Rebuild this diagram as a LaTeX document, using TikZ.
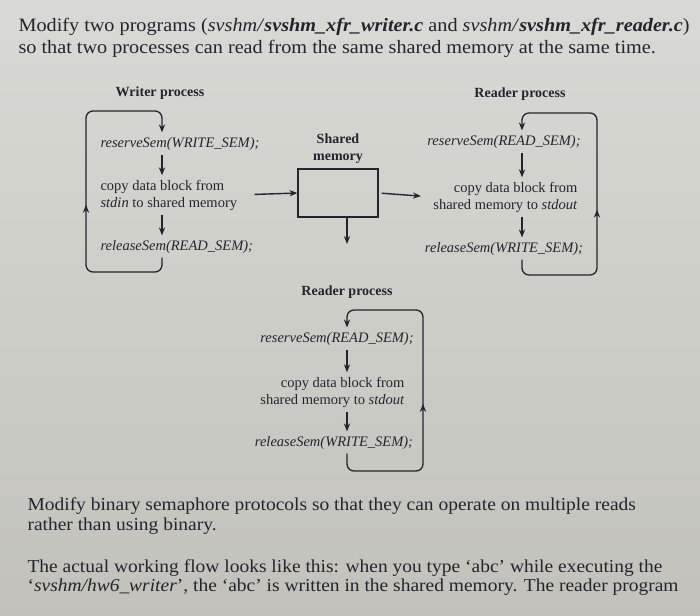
\documentclass[tikz,border=0pt]{standalone}
\usepackage{fontspec}
\setmainfont{Liberation Serif}[FakeStretch=1.07]
\newfontfamily\diagfont{Liberation Serif}
\usetikzlibrary{arrows.meta, positioning, decorations.markings}
\definecolor{cink}{HTML}{24242E}
\definecolor{cpapertop}{HTML}{D9DAD5}
\definecolor{cpapermid}{HTML}{D2D5D3}
\definecolor{cpaperlow}{HTML}{C2C2BB}
\tikzset{
  every picture/.style={line width=1.1pt},
  para/.style={anchor=base west, inner sep=0pt, text=cink, font=\fontsize{18.2}{21}\selectfont},
  headpara/.style={para, font=\fontsize{18.9}{21}\selectfont},
  proc/.style={inner sep=0pt, text=cink, font=\diagfont\bfseries\fontsize{14}{17}\selectfont},
  stmt/.style={inner xsep=0pt, inner ysep=4pt, text=cink, font=\diagfont\fontsize{14.5}{17}\selectfont},
  arrow/.style={-{Stealth[length=2.8mm, width=2.2mm]}, draw=cink, line width=1.4pt},
  loopline/.style={draw=cink, line width=1.3pt, rounded corners=7pt, -{Stealth[length=2.8mm, width=2.2mm]},
    postaction={decorate},
    decoration={markings, mark=at position #1 with {\arrow{Stealth[length=2.8mm, width=2.2mm]}}}},
}
\begin{document}
\begin{tikzpicture}[x=1pt, y=-1pt]
  \shade[top color=cpapertop, middle color=cpapermid, bottom color=cpaperlow] (0,0) rectangle (700,615);
  \useasboundingbox (0,0) rectangle (700,615);

  % ---- task text
  \node[headpara] (intro1) at (18,32) {Modify two programs (\textit{svshm/}\textbf{\textit{svshm\_xfr\_writer.c}} and \textit{svshm/}\textbf{\textit{svshm\_xfr\_reader.c}})};
  \node[headpara] (intro2) at (18,54) {so that two processes can read from the same shared memory at the same time.};

  % ---- columns of the down arrows
  \coordinate (wx) at (162,0);
  \coordinate (rx) at (522,0);
  \coordinate (bx) at (347,0);

  % ---- writer process
  \node[proc, anchor=base] (wlabel) at (160,96) {Writer process};
  \node[stmt, anchor=base west] (wres) at (100,147) {\textit{reserveSem(WRITE\_SEM);}};
  \node[stmt, anchor=west, align=left] (wcopy) at (100,195) {copy data block from\\\textit{stdin} to shared memory};
  \node[stmt, anchor=base west] (wrel) at (100,250) {\textit{releaseSem(READ\_SEM);}};
  \coordinate (wcorner) at (86,272);
  \coordinate (wtop) at (162,111);

  % ---- shared memory
  \node[draw=cink, line width=1.2pt, minimum width=80pt, minimum height=48pt, inner sep=0pt] (shm) at (338,193) {};
  \node[proc, align=center, above=4pt of shm] (shmlabel) {Shared\\memory};
  \coordinate (shmout) at (347,244);

  % ---- reader process (right)
  \node[proc, anchor=base] (rlabel) at (520,98) {Reader process};
  \node[stmt, anchor=base] (rres) at (504,145) {\textit{reserveSem(READ\_SEM);}};
  \node[stmt, anchor=east, align=right] (rcopy) at (578,197) {copy data block from\\shared memory to \textit{stdout}};
  \node[stmt, anchor=base] (rrel) at (504,252) {\textit{releaseSem(WRITE\_SEM);}};
  \coordinate (rcorner) at (597,275);
  \coordinate (rtop) at (522,113);

  % ---- reader process (below)
  \node[proc, anchor=base] (blabel) at (347,295) {Reader process};
  \node[stmt, anchor=base] (bres) at (337,342) {\textit{reserveSem(READ\_SEM);}};
  \node[stmt, anchor=east, align=right] (bcopy) at (405,392) {copy data block from\\shared memory to \textit{stdout}};
  \node[stmt, anchor=base] (brel) at (334,446) {\textit{releaseSem(WRITE\_SEM);}};
  \coordinate (bcorner) at (423,471);
  \coordinate (btop) at (347,310);

  % writer steps
  \draw[arrow] (wres.south -| wx) -- (wcopy.north -| wx);
  \draw[arrow] (wcopy.south -| wx) -- (wrel.north -| wx);
  \draw[loopline=0.45] (wrel.south -| wx) |- (wcorner) |- (wtop) -- (wres.north -| wx);

  % reader steps
  \draw[arrow] (rres.south -| rx) -- (rcopy.north -| rx);
  \draw[arrow] (rcopy.south -| rx) -- (rrel.north -| rx);
  \draw[loopline=0.45] (rrel.south -| rx) |- (rcorner) |- (rtop) -- (rres.north -| rx);

  \draw[arrow] (bres.south -| bx) -- (bcopy.north -| bx);
  \draw[arrow] (bcopy.south -| bx) -- (brel.north -| bx);
  \draw[loopline=0.46] (brel.south -| bx) |- (bcorner) |- (btop) -- (bres.north -| bx);

  % data flow through shared memory
  \draw[arrow, shorten <=17pt] (wcopy.east) -- (shm.west);
  \draw[arrow, shorten <=3pt, shorten >=12pt] (shm.east) -- (rcopy.west);
  \draw[arrow] (shm.south -| shmout) -- (shmout);

  % ---- notes below
  \node[para] (note1) at (27,510) {Modify binary semaphore protocols so that they can operate on multiple reads};
  \node[para] (note2) at (27,530) {rather than using binary.};
  \node[para] (note3) at (27,572) {The actual working flow looks like this: when you type `abc' while executing the};
  \node[para] (note4) at (27,591) {`\textit{svshm/hw6\_writer}', the `abc' is written in the shared memory. The reader program};
\end{tikzpicture}
\end{document}
